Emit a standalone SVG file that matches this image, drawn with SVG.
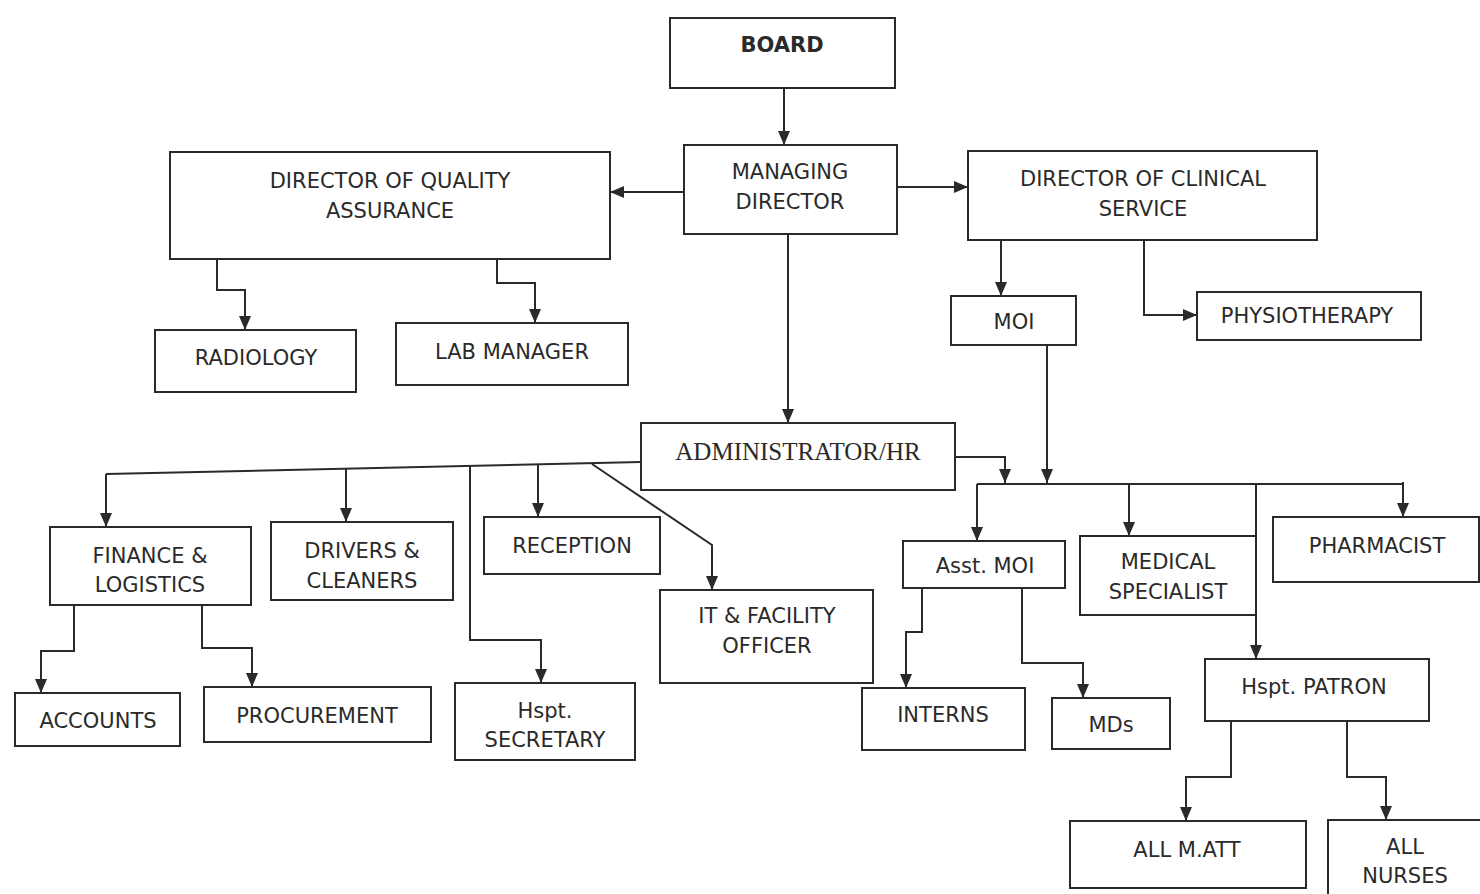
<svg xmlns="http://www.w3.org/2000/svg" width="1480" height="894" viewBox="0 0 1480 894">
<style>
.box{fill:#fff;stroke:#2a2a2a;stroke-width:2}
.t{font-family:"DejaVu Sans",Verdana,sans-serif;font-size:21px;fill:#2a2a2a;text-anchor:middle;dominant-baseline:central}
.b{font-weight:bold;font-size:21px}
.s{font-family:"Liberation Serif","Times New Roman",serif;font-size:25px}
.c{fill:none;stroke:#2a2a2a;stroke-width:2}
</style>
<defs>
<marker id="ah" markerUnits="userSpaceOnUse" markerWidth="14" markerHeight="14" viewBox="0 0 14 14" refX="14" refY="7" orient="auto">
<path d="M0,1 L14,7 L0,13 z" fill="#2a2a2a"/>
</marker>
</defs>
<rect width="1480" height="894" fill="#fff"/>
<g id="connectors">
<path class="c" marker-end="url(#ah)" d="M784,88 V145"/>
<path class="c" marker-end="url(#ah)" d="M684,192 H610"/>
<path class="c" marker-end="url(#ah)" d="M897,187 H968"/>
<path class="c" marker-end="url(#ah)" d="M217,260 V290 H245 V330"/>
<path class="c" marker-end="url(#ah)" d="M497,252 V283 H535 V323"/>
<path class="c" marker-end="url(#ah)" d="M1001,240 V296"/>
<path class="c" marker-end="url(#ah)" d="M1144,240 V315 H1197"/>
<path class="c" marker-end="url(#ah)" d="M788,234 V423"/>
<path class="c" marker-end="url(#ah)" d="M1047,345 V483"/>
<path class="c" marker-end="url(#ah)" d="M955,457 H1005 V483"/>
<path class="c" d="M977,484 H1403"/>
<path class="c" marker-end="url(#ah)" d="M977,484 V541"/>
<path class="c" marker-end="url(#ah)" d="M1129,484 V536"/>
<path class="c" marker-end="url(#ah)" d="M1403,482 V517"/>
<path class="c" marker-end="url(#ah)" d="M1256,484 V659"/>
<path class="c" d="M641,462 L106,474"/>
<path class="c" marker-end="url(#ah)" d="M106,474 V527"/>
<path class="c" marker-end="url(#ah)" d="M346,469 V522"/>
<path class="c" marker-end="url(#ah)" d="M538,465 V517"/>
<path class="c" marker-end="url(#ah)" d="M470,466 V640 H541 V683"/>
<path class="c" marker-end="url(#ah)" d="M592,464 L712,545 V590"/>
<path class="c" marker-end="url(#ah)" d="M74,605 V651 H41 V693"/>
<path class="c" marker-end="url(#ah)" d="M202,605 V648 H252 V687"/>
<path class="c" marker-end="url(#ah)" d="M922,588 V632 H906 V688"/>
<path class="c" marker-end="url(#ah)" d="M1022,588 V663 H1083 V698"/>
<path class="c" marker-end="url(#ah)" d="M1231,721 V777 H1186 V821"/>
<path class="c" marker-end="url(#ah)" d="M1347,721 V777 H1386 V820"/>
</g>
<g id="board"><rect class="box" x="670" y="18" width="225" height="70"/><text class="t b" x="782" y="45">BOARD</text></g>
<g id="md"><rect class="box" x="684" y="145" width="213" height="89"/><text class="t" x="790" y="172">MANAGING</text><text class="t" x="790" y="202">DIRECTOR</text></g>
<g id="dqa"><rect class="box" x="170" y="152" width="440" height="107"/><text class="t" x="390" y="181">DIRECTOR OF QUALITY</text><text class="t" x="390" y="211">ASSURANCE</text></g>
<g id="dcs"><rect class="box" x="968" y="151" width="349" height="89"/><text class="t" x="1143" y="179">DIRECTOR OF CLINICAL</text><text class="t" x="1143" y="209">SERVICE</text></g>
<g id="radiology"><rect class="box" x="155" y="330" width="201" height="62"/><text class="t" x="256" y="358">RADIOLOGY</text></g>
<g id="lab"><rect class="box" x="396" y="323" width="232" height="62"/><text class="t" x="512" y="352">LAB MANAGER</text></g>
<g id="moi"><rect class="box" x="951" y="296" width="125" height="49"/><text class="t" x="1014" y="322">MOI</text></g>
<g id="physio"><rect class="box" x="1197" y="292" width="224" height="48"/><text class="t" x="1307" y="316">PHYSIOTHERAPY</text></g>
<g id="admin"><rect class="box" x="641" y="423" width="314" height="67"/><text class="t s" x="798" y="451">ADMINISTRATOR/HR</text></g>
<g id="finance"><rect class="box" x="50" y="527" width="201" height="78"/><text class="t" x="150" y="556">FINANCE &amp;</text><text class="t" x="150" y="585">LOGISTICS</text></g>
<g id="drivers"><rect class="box" x="271" y="522" width="182" height="78"/><text class="t" x="362" y="551">DRIVERS &amp;</text><text class="t" x="362" y="581">CLEANERS</text></g>
<g id="reception"><rect class="box" x="484" y="517" width="176" height="57"/><text class="t" x="572" y="546">RECEPTION</text></g>
<g id="it"><rect class="box" x="660" y="590" width="213" height="93"/><text class="t" x="767" y="616">IT &amp; FACILITY</text><text class="t" x="767" y="646">OFFICER</text></g>
<g id="accounts"><rect class="box" x="15" y="693" width="165" height="53"/><text class="t" x="98" y="721">ACCOUNTS</text></g>
<g id="procurement"><rect class="box" x="204" y="687" width="227" height="55"/><text class="t" x="317" y="716">PROCUREMENT</text></g>
<g id="secretary"><rect class="box" x="455" y="683" width="180" height="77"/><text class="t" x="545" y="711">Hspt.</text><text class="t" x="545" y="740">SECRETARY</text></g>
<g id="asstmoi"><rect class="box" x="903" y="541" width="162" height="47"/><text class="t" x="985" y="566">Asst. MOI</text></g>
<g id="medspec"><rect class="box" x="1080" y="536" width="176" height="79"/><text class="t" x="1168" y="562">MEDICAL</text><text class="t" x="1168" y="592">SPECIALIST</text></g>
<g id="pharmacist"><rect class="box" x="1273" y="517" width="206" height="65"/><text class="t" x="1377" y="546">PHARMACIST</text></g>
<g id="interns"><rect class="box" x="862" y="688" width="163" height="62"/><text class="t" x="943" y="715">INTERNS</text></g>
<g id="mds"><rect class="box" x="1052" y="698" width="118" height="51"/><text class="t" x="1111" y="725">MDs</text></g>
<g id="patron"><rect class="box" x="1205" y="659" width="224" height="62"/><text class="t" x="1314" y="687">Hspt. PATRON</text></g>
<g id="allmatt"><rect class="box" x="1070" y="821" width="236" height="67"/><text class="t" x="1187" y="850">ALL M.ATT</text></g>
<g id="allnurses"><rect class="box" x="1328" y="820" width="160" height="80"/><text class="t" x="1405" y="847">ALL</text><text class="t" x="1405" y="876">NURSES</text></g>
</svg>
